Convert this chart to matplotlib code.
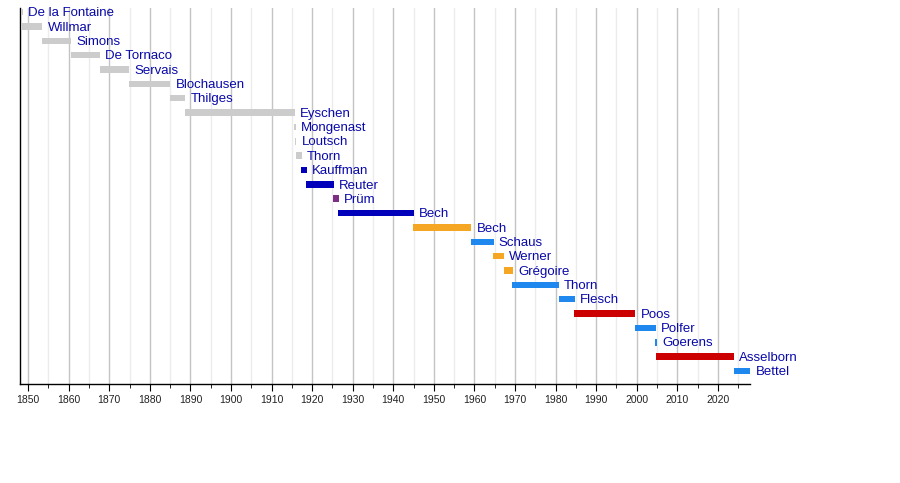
import matplotlib
matplotlib.use("Agg")
import matplotlib.pyplot as plt
from matplotlib.ticker import MultipleLocator

names = ["De la Fontaine", "Willmar", "Simons", "De Tornaco", "Servais", "Blochausen",
         "Thilges", "Eyschen", "Mongenast", "Loutsch", "Thorn", "Kauffman", "Reuter",
         "Prüm", "Bech", "Bech", "Schaus", "Werner", "Grégoire", "Thorn", "Flesch",
         "Poos", "Polfer", "Goerens", "Asselborn", "Bettel"]
starts = [1848.3, 1848.6, 1853.5, 1860.6, 1867.7, 1874.8, 1885.0, 1888.7, 1915.6, 1915.8,
          1916.0, 1917.2, 1918.5, 1925.2, 1926.4, 1944.9, 1959.1, 1964.6, 1967.2, 1969.2,
          1980.8, 1984.5, 1999.6, 2004.4, 2004.7, 2023.9]
ends = [1848.7, 1853.5, 1860.6, 1867.7, 1874.8, 1885.0, 1888.7, 1915.7, 1915.9, 1916.1,
        1917.4, 1918.7, 1925.3, 1926.6, 1945.0, 1959.2, 1964.7, 1967.3, 1969.4, 1980.8,
        1984.7, 1999.6, 2004.7, 2004.9, 2023.9, 2028.0]
parties = ["none", "none", "none", "none", "none", "none", "none", "none", "none", "none",
           "none", "rp", "rp", "pnp", "rp", "csv", "dp", "csv", "csv", "dp", "dp",
           "lsap", "dp", "dp", "lsap", "dp"]

party_colors = {"none": "#cccccc", "rp": "#0000bb", "pnp": "#7d2f82", "csv": "#f5a623",
                "dp": "#1e88ee", "lsap": "#cc0000"}

plt.rcParams['font.family'] = ['Liberation Sans', 'DejaVu Sans']

fig = plt.figure(figsize=(9.0, 4.83), dpi=100)
ax = fig.add_axes([20/900, 1-384/483, 730/900, 376/483])

for i, (n, s, e, p) in enumerate(zip(names, starts, ends, parties)):
    ax.barh(i, e - s, left=s, height=0.45, color=party_colors[p], zorder=3)
    ax.text(e + 1.3, i + 0.08, n, va='center', ha='left', fontsize=9.5, color='#0808aa', zorder=4)

ax.set_xlim(1848, 2027.9)
ax.set_ylim(25.9, -0.28)
ax.xaxis.set_major_locator(MultipleLocator(10))
ax.xaxis.set_minor_locator(MultipleLocator(5))
ax.grid(which='major', axis='x', color='#c4c4c4', linewidth=1, zorder=0)
ax.grid(which='minor', axis='x', color='#ececec', linewidth=1, zorder=0)
ax.set_axisbelow(True)
ax.set_yticks([])
for sp in ['top', 'right']:
    ax.spines[sp].set_visible(False)
ax.spines['left'].set_linewidth(1)
ax.spines['bottom'].set_linewidth(1)
ax.tick_params(axis='x', which='major', length=5, labelsize=7.5, pad=3, colors='black')
ax.tick_params(axis='x', which='minor', length=3)
for lbl in ax.get_xticklabels():
    lbl.set_color('#222222')

fig.savefig("out.png", dpi=100)
